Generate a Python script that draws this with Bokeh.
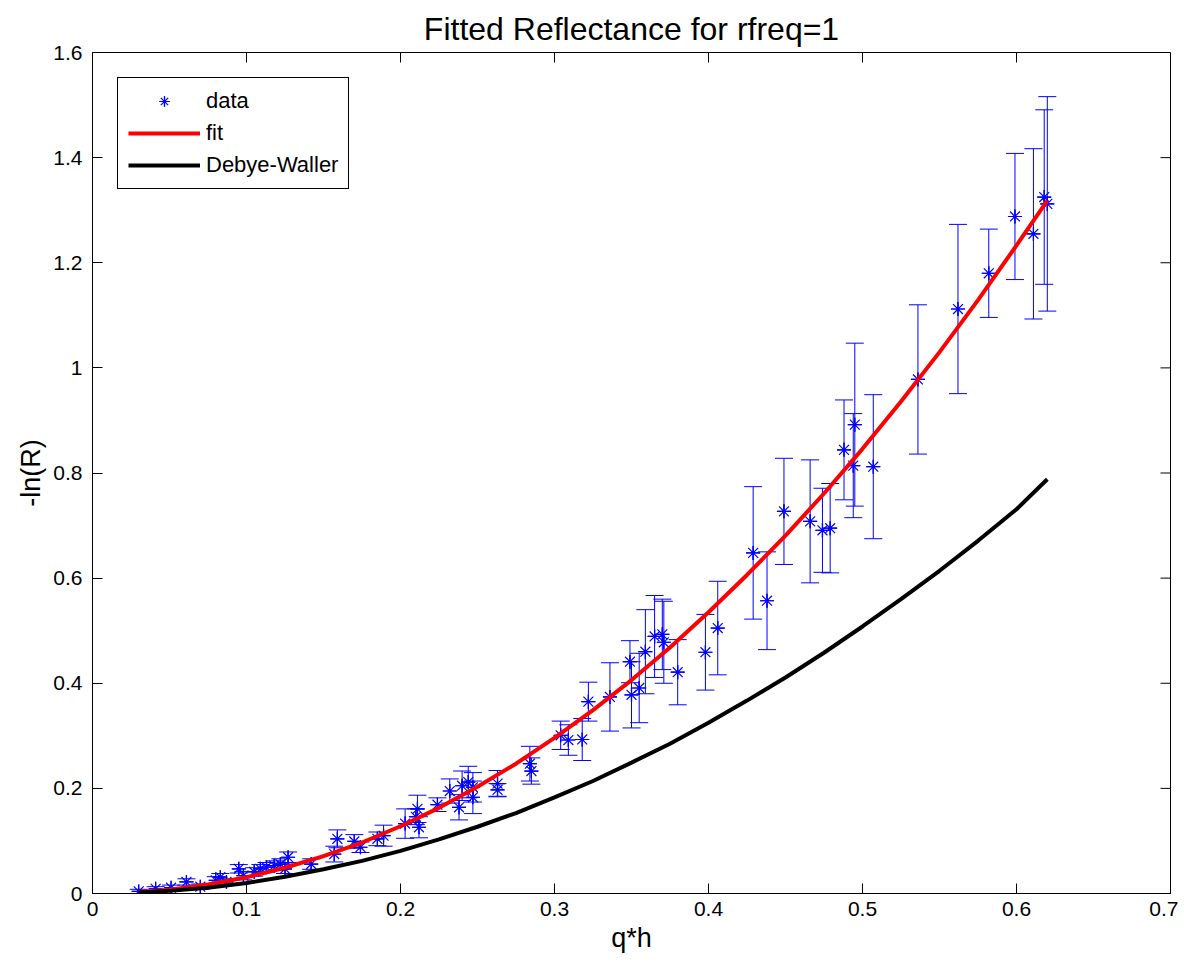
import math
from bokeh.plotting import figure
from bokeh.models import (ColumnDataSource, Whisker, TeeHead, Title,
                          CustomJSTickFormatter, FixedTicker, Legend)
from bokeh.embed import file_html
from bokeh.resources import INLINE

# ---- data ----
qh = [0.030, 0.041, 0.051, 0.061, 0.070, 0.080, 0.083, 0.087, 0.095, 0.098,
      0.105, 0.109, 0.113, 0.118, 0.122, 0.125, 0.127, 0.142, 0.157, 0.159,
      0.170, 0.174, 0.185, 0.189, 0.203, 0.210, 0.211, 0.212, 0.224, 0.232,
      0.238, 0.240, 0.244, 0.247, 0.247, 0.263, 0.263, 0.284, 0.285, 0.304,
      0.309, 0.318, 0.322, 0.336, 0.349, 0.350, 0.355, 0.359, 0.365, 0.370,
      0.371, 0.380, 0.398, 0.406, 0.429, 0.438, 0.449, 0.466, 0.474, 0.479,
      0.488, 0.494, 0.495, 0.507, 0.536, 0.562, 0.582, 0.599, 0.611, 0.618,
      0.620]
neg_ln_r = [0.004, 0.009, 0.011, 0.022, 0.013, 0.025, 0.031, 0.022, 0.047, 0.034,
            0.041, 0.047, 0.050, 0.053, 0.056, 0.047, 0.069, 0.056, 0.075, 0.104,
            0.099, 0.088, 0.104, 0.110, 0.133, 0.146, 0.161, 0.126, 0.169, 0.195,
            0.164, 0.205, 0.212, 0.202, 0.183, 0.209, 0.197, 0.247, 0.233, 0.301,
            0.292, 0.293, 0.365, 0.374, 0.441, 0.378, 0.391, 0.460, 0.489, 0.493,
            0.478, 0.421, 0.459, 0.505, 0.648, 0.557, 0.727, 0.708, 0.691, 0.695,
            0.844, 0.814, 0.892, 0.812, 0.978, 1.112, 1.180, 1.288, 1.255, 1.325,
            1.312]
err = [0.004, 0.004, 0.005, 0.006, 0.005, 0.007, 0.007, 0.006, 0.008, 0.008,
       0.008, 0.008, 0.009, 0.009, 0.010, 0.009, 0.010, 0.010, 0.015, 0.017,
       0.013, 0.010, 0.013, 0.020, 0.028, 0.015, 0.026, 0.020, 0.013, 0.023,
       0.024, 0.028, 0.030, 0.028, 0.031, 0.025, 0.012, 0.033, 0.025, 0.027,
       0.029, 0.040, 0.037, 0.065, 0.040, 0.063, 0.066, 0.080, 0.078, 0.067,
       0.078, 0.062, 0.072, 0.089, 0.126, 0.093, 0.101, 0.117, 0.080, 0.085,
       0.095, 0.099, 0.155, 0.137, 0.142, 0.161, 0.084, 0.120, 0.162, 0.166,
       0.204]

curve_x = [0.03, 0.05, 0.075, 0.1, 0.125, 0.15, 0.175, 0.2, 0.225, 0.25, 0.275,
           0.3, 0.325, 0.35, 0.375, 0.4, 0.425, 0.45, 0.475, 0.5, 0.525, 0.55,
           0.575, 0.6, 0.62]
fit_y = [0.003, 0.007, 0.017, 0.031, 0.049, 0.071, 0.097, 0.128, 0.163, 0.203,
         0.247, 0.296, 0.349, 0.406, 0.468, 0.535, 0.606, 0.681, 0.761, 0.846,
         0.936, 1.030, 1.129, 1.233, 1.318]
dw_y = [0.002, 0.005, 0.011, 0.020, 0.032, 0.046, 0.062, 0.081, 0.103, 0.127,
        0.153, 0.183, 0.214, 0.249, 0.285, 0.325, 0.367, 0.411, 0.458, 0.508,
        0.560, 0.614, 0.671, 0.731, 0.788]

x_ticks = [0, 0.1, 0.2, 0.3, 0.4, 0.5, 0.6, 0.7]
y_ticks = [0, 0.2, 0.4, 0.6, 0.8, 1.0, 1.2, 1.4, 1.6]

FONT = "Liberation Sans"
BLUE = "#0000ff"
X_MIN, X_MAX = 0, 0.7
Y_MIN, Y_MAX = 0, 1.6

src = ColumnDataSource(dict(
    x=qh, y=neg_ln_r,
    upper=[v + e for v, e in zip(neg_ln_r, err)],
    lower=[v - e for v, e in zip(neg_ln_r, err)],
))

p = figure(frame_width=1078, frame_height=841, x_range=(X_MIN, X_MAX),
           y_range=(Y_MIN, Y_MAX),
           output_backend="svg", toolbar_location=None,
           min_border_left=92, min_border_right=8, min_border_top=52,
           min_border_bottom=70,
           background_fill_color="white", border_fill_color="white")
p.xgrid.visible = False
p.ygrid.visible = False
p.outline_line_color = "black"
p.outline_line_alpha = 1.0
p.outline_line_width = 1

fmt = CustomJSTickFormatter(code="return (Math.round(tick*10)/10).toString();")

for ax, ticks in ((p.xaxis[0], x_ticks), (p.yaxis[0], y_ticks)):
    ax.ticker = FixedTicker(ticks=ticks)
    ax.formatter = fmt
    ax.major_tick_in = 10
    ax.major_tick_out = 0
    ax.minor_tick_line_color = None
    ax.major_label_text_font = FONT
    ax.major_label_text_font_size = "21px"
    ax.major_label_text_color = "black"
    ax.axis_line_color = "black"
    ax.major_tick_line_color = "black"
    ax.axis_label_text_font = FONT
    ax.axis_label_text_font_style = "normal"
    ax.axis_label_text_font_size = "27px"
    ax.axis_label_text_color = "black"

p.xaxis[0].axis_label = "q*h"
p.yaxis[0].axis_label = "-ln(R)"
p.xaxis[0].major_label_standoff = 8
p.yaxis[0].major_label_standoff = 10
p.xaxis[0].axis_label_standoff = 4
p.yaxis[0].axis_label_standoff = 4

# inward ticks on the top and right edges of the box
p.ray(x=x_ticks, y=[Y_MAX] * len(x_ticks), length=10, length_units="screen",
      angle=-math.pi / 2, line_color="black", line_width=1)
p.ray(x=[X_MAX] * len(y_ticks), y=y_ticks, length=10, length_units="screen",
      angle=math.pi, line_color="black", line_width=1)

p.add_layout(Title(text="Fitted Reflectance for rfreq=1", text_font=FONT,
                   text_font_size="32px", text_font_style="normal",
                   text_color="black", align="center", standoff=12), "above")

wh = Whisker(source=src, base="x", upper="upper", lower="lower", dimension="height",
             line_color=BLUE, line_width=1, level="underlay",
             upper_head=TeeHead(size=18, line_color=BLUE, line_width=1),
             lower_head=TeeHead(size=18, line_color=BLUE, line_width=1))
p.add_layout(wh)

r1 = p.scatter("x", "y", source=src, marker="asterisk", size=14, line_color=BLUE,
               line_width=1.2)
r2 = p.scatter("x", "y", source=src, marker="cross", size=14, line_color=BLUE,
               line_width=1.2)
r3 = p.line(curve_x, fit_y, line_color="#ff0000", line_width=4)
r4 = p.line(curve_x, dw_y, line_color="black", line_width=4)

legend = Legend(items=[("data", [r1, r2]), ("fit", [r3]), ("Debye-Waller", [r4])],
                location="top_left", margin=25, padding=10, spacing=6,
                glyph_width=72, glyph_height=26, label_text_font=FONT,
                label_text_font_size="22px", label_text_color="black",
                label_standoff=6,
                border_line_color="black", border_line_alpha=1.0,
                border_line_width=1,
                background_fill_color="white", background_fill_alpha=1.0,
                label_height=26)
p.add_layout(legend)

open("out.html", "w").write(file_html(p, INLINE))
